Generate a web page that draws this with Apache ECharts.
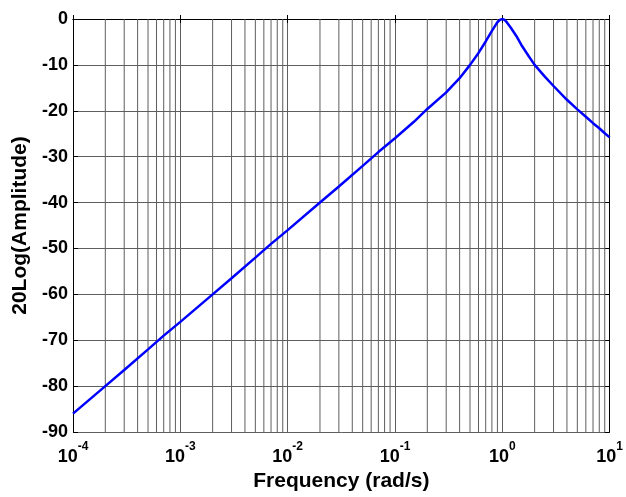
<!DOCTYPE html>
<html>
<head>
<meta charset="utf-8">
<script src="https://cdn.jsdelivr.net/npm/echarts@6/dist/echarts.min.js"></script>
<style>html,body{margin:0;padding:0;background:#fff;}#c{width:626px;height:497px;}</style>
</head>
<body>
<div id="c"></div>
<script>
// Frequency (rad/s) and magnitude (dB)
var freq = [1e-4, 2e-4, 3e-4, 5e-4, 7e-4, 1e-3, 2e-3, 3e-3, 5e-3, 7e-3, 1e-2, 2e-2, 3e-2, 5e-2, 7e-2, 0.1, 0.15, 0.2, 0.3, 0.4, 0.5, 0.6, 0.7, 0.8, 0.85, 0.9, 0.95, 1.0, 1.05, 1.1, 1.2, 1.35, 1.5, 1.75, 2, 2.5, 3, 4, 5, 6, 7, 8, 9, 10];
var magDb = [-86, -80, -76.5, -72, -69, -66, -60, -56.5, -52, -49, -46, -40, -36.5, -32, -29, -26, -22.4, -19.6, -16, -12.9, -10, -7.4, -4.9, -2.6, -1.6, -0.7, -0.2, 0, -0.2, -0.7, -1.9, -3.7, -5.6, -8, -10, -12.6, -14.6, -17.6, -19.7, -21.3, -22.7, -23.8, -24.9, -25.8];
var yTicks = [-90, -80, -70, -60, -50, -40, -30, -20, -10, 0];
var decades = [-4, -3, -2, -1, 0];
var yMin = -90, yMax = 0;

// minor vertical grid lines at 2..9 x 10^d, drawn through the axes
var minorGridData = [];
decades.forEach(function (d) {
  for (var k = 2; k <= 9; k++) {
    var f = k * Math.pow(10, d);
    minorGridData.push([f, yMin], [f, yMax], [f, '-']);
  }
});

var FONT = '"Liberation Sans", Arial, sans-serif';
var gridColor = '#5e5e5e';

var chart = echarts.init(document.getElementById('c'), null, { renderer: 'canvas' });
chart.setOption({
  animation: false,
  backgroundColor: '#fff',
  grid: { left: 73, top: 19, right: 15, bottom: 63 },
  xAxis: [{
    type: 'log', logBase: 10, min: 1e-4, max: 10,
    name: 'Frequency (rad/s)', nameLocation: 'middle', nameGap: 39,
    nameTextStyle: { fontFamily: FONT, fontWeight: 'bold', fontSize: 21, color: '#000' },
    axisLine: { lineStyle: { color: '#000', width: 1 } },
    axisTick: { inside: true, length: 4, lineStyle: { color: '#000' } },
    splitLine: { show: true, lineStyle: { color: gridColor, width: 1 } },
    axisLabel: {
      margin: 9,
      formatter: function (v) {
        var e = Math.round(Math.log10(v));
        return '{b|10}{e|' + e + '}';
      },
      rich: {
        b: { fontFamily: FONT, fontWeight: 'bold', fontSize: 18, color: '#000', verticalAlign: 'bottom' },
        e: { fontFamily: FONT, fontWeight: 'bold', fontSize: 12, color: '#000', verticalAlign: 'bottom', padding: [0, 0, 13, 0] }
      }
    }
  }, {
    type: 'log', logBase: 10, min: 1e-4, max: 10, position: 'top',
    axisLine: { lineStyle: { color: '#000', width: 1 } },
    axisTick: { inside: true, length: 4, lineStyle: { color: '#000' } },
    axisLabel: { show: false }, splitLine: { show: false }
  }],
  yAxis: [{
    type: 'value', min: yMin, max: yMax, interval: 10,
    name: '20Log(Amplitude)', nameLocation: 'middle', nameGap: 42,
    nameTextStyle: { fontFamily: FONT, fontWeight: 'bold', fontSize: 21, color: '#000' },
    axisLine: { show: true, lineStyle: { color: '#000', width: 1 } },
    axisTick: { show: true, inside: true, length: 5, lineStyle: { color: '#000' } },
    splitLine: { show: true, lineStyle: { color: gridColor, width: 1 } },
    axisLabel: {
      margin: 5, fontFamily: FONT, fontWeight: 'bold', fontSize: 18, color: '#000',
      formatter: function (v) { return yTicks.indexOf(v) >= 0 ? String(v) : ''; }
    }
  }, {
    type: 'value', min: yMin, max: yMax, interval: 10, position: 'right',
    axisLine: { show: true, lineStyle: { color: '#000', width: 1 } },
    axisTick: { show: true, inside: true, length: 5, lineStyle: { color: '#000' } },
    axisLabel: { show: false }, splitLine: { show: false }
  }],
  series: [{
    type: 'line',
    xAxisIndex: 0, yAxisIndex: 0,
    data: minorGridData,
    showSymbol: false,
    connectNulls: false,
    silent: true,
    lineStyle: { color: gridColor, width: 1 },
    itemStyle: { color: gridColor },
    z: 1
  }, {
    type: 'line',
    xAxisIndex: 0, yAxisIndex: 0,
    data: freq.map(function (f, i) { return [f, magDb[i]]; }),
    showSymbol: false,
    smooth: false,
    lineStyle: { color: '#0000ff', width: 2.5 },
    itemStyle: { color: '#0000ff' },
    z: 5
  }]
});
</script>
</body>
</html>
